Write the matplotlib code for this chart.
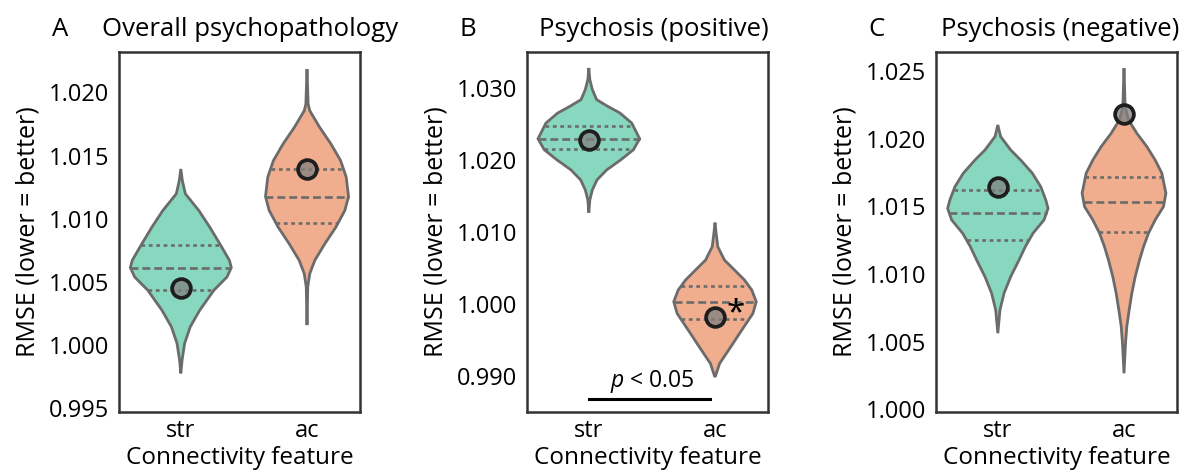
import matplotlib
matplotlib.use('Agg')
import matplotlib.pyplot as plt
import numpy as np

plt.rcParams['font.family'] = ['Open Sans', 'DejaVu Sans']
plt.rcParams['font.size'] = 15
plt.rcParams['mathtext.fontset'] = 'custom'
plt.rcParams['mathtext.it'] = 'Open Sans:italic'

# 데이터
features = ['str', 'ac']
letters = ['A', 'B', 'C']
titles = ['Overall psychopathology', 'Psychosis (positive)', 'Psychosis (negative)']

# 관측값 (점)
obs_overall = [1.00453, 1.01395]
obs_pos = [1.02271, 0.99822]
obs_neg = [1.01645, 1.02182]

# 사분위수 (25%, 50%, 75%)
q_overall_str = [1.00434, 1.00613, 1.00795]
q_overall_ac = [1.00968, 1.01176, 1.01395]
q_pos_str = [1.02151, 1.02295, 1.02476]
q_pos_ac = [0.99798, 1.00031, 1.00248]
q_neg_str = [1.01249, 1.01453, 1.01621]
q_neg_ac = [1.01308, 1.01534, 1.01714]

# 바이올린 윤곽 (값, 반폭)
v_overall_str = [0.99776, 0.99882, 1.00013, 1.00145, 1.00276, 1.00434, 1.00539, 1.00613,
                 1.00671, 1.00803, 1.00934, 1.01066, 1.01197, 1.01303, 1.01394]
w_overall_str = [0, 0.010, 0.030, 0.075, 0.150, 0.262, 0.366, 0.400,
                 0.385, 0.308, 0.229, 0.142, 0.036, 0.012, 0]
v_overall_ac = [1.00158, 1.00460, 1.00566, 1.00671, 1.00803, 1.00934, 1.01066, 1.01176,
                1.01329, 1.01461, 1.01592, 1.01724, 1.01855, 1.01908, 1.02184]
w_overall_ac = [0, 0.006, 0.022, 0.062, 0.142, 0.229, 0.300, 0.329,
                0.311, 0.266, 0.190, 0.100, 0.022, 0.009, 0]
v_pos_str = [1.01269, 1.01446, 1.01585, 1.01724, 1.01863, 1.02002, 1.02142, 1.02295,
             1.02513, 1.02652, 1.02745, 1.02838, 1.02977, 1.03116, 1.03278]
w_pos_str = [0, 0.008, 0.028, 0.065, 0.142, 0.253, 0.353, 0.403,
             0.340, 0.247, 0.150, 0.062, 0.028, 0.008, 0]
v_pos_ac = [0.98986, 0.99033, 0.99172, 0.99311, 0.99450, 0.99590, 0.99729, 0.99868,
            1.00031, 1.00193, 1.00332, 1.00471, 1.00610, 1.00796, 1.00982, 1.01130]
w_pos_ac = [0, 0.010, 0.036, 0.089, 0.142, 0.194, 0.247, 0.300,
            0.327, 0.292, 0.234, 0.155, 0.075, 0.022, 0.009, 0]
v_neg_str = [1.00562, 1.00734, 1.00857, 1.00980, 1.01103, 1.01202, 1.01301, 1.01399,
             1.01485, 1.01547, 1.01645, 1.01744, 1.01842, 1.01916, 1.02015, 1.02101]
w_neg_str = [0, 0.017, 0.049, 0.102, 0.168, 0.218, 0.279, 0.366,
             0.398, 0.380, 0.340, 0.274, 0.181, 0.102, 0.022, 0]
v_neg_ac = [1.00266, 1.00488, 1.00611, 1.00734, 1.00857, 1.00980, 1.01103, 1.01202,
            1.01301, 1.01399, 1.01498, 1.01596, 1.01744, 1.01842, 1.01941, 1.02039,
            1.02138, 1.02236, 1.02520]
w_neg_ac = [0, 0.012, 0.022, 0.041, 0.062, 0.089, 0.123, 0.155,
            0.194, 0.247, 0.313, 0.332, 0.300, 0.247, 0.181, 0.102,
            0.036, 0.009, 0]

ylims = [(0.9947, 1.0232), (0.985, 1.035), (0.9998, 1.0264)]
yticks = [np.arange(0.995, 1.0201, 0.005), np.arange(0.990, 1.0301, 0.010),
          np.arange(1.000, 1.0251, 0.005)]

panels = [
    (obs_overall, [q_overall_str, q_overall_ac], [(v_overall_str, w_overall_str), (v_overall_ac, w_overall_ac)]),
    (obs_pos, [q_pos_str, q_pos_ac], [(v_pos_str, w_pos_str), (v_pos_ac, w_pos_ac)]),
    (obs_neg, [q_neg_str, q_neg_ac], [(v_neg_str, w_neg_str), (v_neg_ac, w_neg_ac)]),
]

colors = ['#88d8c0', '#f0ae8f']
edge = '#6b6b6b'

fig = plt.figure(figsize=(11.92, 4.75), dpi=100)
lefts = [119, 527, 936]
title_x = [0.545, 0.525, 0.515]

for i, (obs, quarts, profs) in enumerate(panels):
    ax = fig.add_axes([lefts[i] / 1192, 63 / 475, 241 / 1192, 360 / 475])
    for j in range(2):
        v = np.array(profs[j][0])
        w = np.array(profs[j][1])
        xs = np.concatenate([j - w, (j + w)[::-1]])
        ys = np.concatenate([v, v[::-1]])
        ax.fill(xs, ys, facecolor=colors[j], edgecolor=edge, lw=2.0, zorder=2)
        for k, q in enumerate(quarts[j]):
            hw = np.interp(q, v, w)
            if k == 1:
                ax.plot([j - hw, j + hw], [q, q], color=edge, lw=1.9, dashes=(3, 1.5), zorder=3)
            else:
                ax.plot([j - hw, j + hw], [q, q], color=edge, lw=1.9, dashes=(1.4, 1.4), zorder=3)
        ax.plot(j, obs[j], 'o', ms=13.5, mfc=(0.5, 0.5, 0.5, 0.75), mec='#1e1e1e', mew=2.7, zorder=4)

    ax.set_xlim(-0.49, 1.42)
    ax.set_ylim(*ylims[i])
    ax.set_xticks([0, 1])
    ax.set_xticklabels(features)
    ax.set_yticks(yticks[i])
    ax.set_yticklabels(['%.3f' % t for t in yticks[i]])
    ax.tick_params(axis='y', length=0, pad=7, labelsize=17)
    ax.tick_params(axis='x', length=0, pad=5, labelsize=17)
    for s in ax.spines.values():
        s.set_color('#333333')
        s.set_linewidth(1.8)
    ax.set_xlabel('Connectivity feature', fontsize=17.5, labelpad=2)
    ax.set_ylabel('RMSE (lower = better)', fontsize=18, labelpad=6)
    ax.text(title_x[i], 1.044, titles[i], transform=ax.transAxes, ha='center', va='baseline', fontsize=18.5)
    ax.text(-0.28, 1.044, letters[i], transform=ax.transAxes, ha='left', va='baseline', fontsize=18.5)

    if i == 1:
        ax.plot([0, 0.96], [0.98685, 0.98685], color='black', lw=2.2, zorder=3)
        ax.text(0.5, 0.9874, r'$p$ < 0.05', ha='center', va='bottom', fontsize=16.5)
        ax.text(1.09, obs[1] + 0.0004, '*', ha='left', va='center', fontsize=24)

fig.savefig('out.png', dpi=100)
